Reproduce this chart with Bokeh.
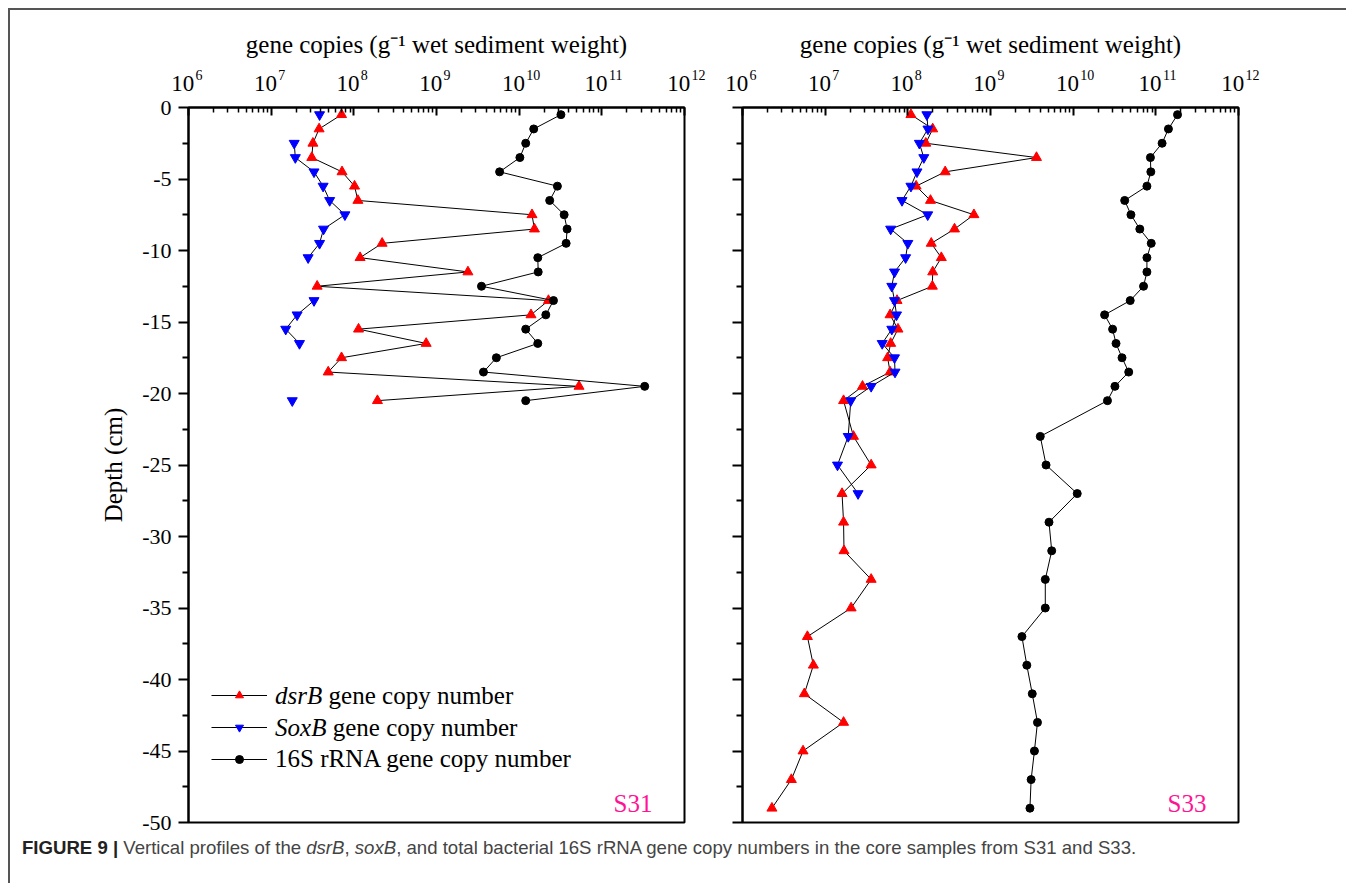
import numpy as np
from bokeh.plotting import figure
from bokeh.models import (Range1d, FixedTicker, CustomJSTickFormatter, Legend, LogAxis,
                          LegendItem, Label, Div, ColumnDataSource)
from bokeh.layouts import row, column
from bokeh.embed import file_html
from bokeh.resources import INLINE
from bokeh.core.properties import value

NaN = float("nan")

# ---------------- data ----------------
depth_s31 = [-0.5, -1.5, -2.5, -3.5, -4.5, -5.5, -6.5, -7.5, -8.5, -9.5, -10.5,
             -11.5, -12.5, -13.5, -14.5, -15.5, -16.5, -17.5, -18.5, -19.5, -20.5]
dsrB_s31 = [7.1e7, 3.8e7, 3.2e7, 3.1e7, 7.2e7, 1.02e8, 1.12e8, 1.43e10, 1.53e10, 2.2e8,
            1.19e8, 2.4e9, 3.6e7, 2.26e10, 1.39e10, 1.14e8, 7.5e8, 7.1e7, 4.9e7, 5.3e10, 1.93e8]
soxB_s31 = [3.85e7, NaN, 1.9e7, 1.96e7, 3.3e7, 4.25e7, 5.1e7, 7.8e7, 4.3e7, 3.85e7,
            2.8e7, NaN, NaN, 3.3e7, 2.06e7, 1.5e7, 2.2e7, NaN, NaN, NaN, 1.8e7]
rrna_s31 = [3.2e10, 1.5e10, 1.2e10, 1.02e10, 5.8e9, 2.9e10, 2.34e10, 3.5e10, 3.8e10, 3.7e10,
            1.68e10, 1.7e10, 3.5e9, 2.6e10, 2.1e10, 1.2e10, 1.68e10, 5.3e9, 3.7e9, 3.3e11, 1.2e10]

depth_s33 = [-0.5, -1.5, -2.5, -3.5, -4.5, -5.5, -6.5, -7.5, -8.5, -9.5, -10.5,
             -11.5, -12.5, -13.5, -14.5, -15.5, -16.5, -17.5, -18.5, -19.5, -20.5,
             -23, -25, -27, -29, -31, -33, -35, -37, -39, -41, -43, -45, -47, -49]
dsrB_s33 = [1.09e8, 2.0e8, 1.65e8, 3.6e9, 2.83e8, 1.26e8, 1.88e8, 6.3e8, 3.67e8, 1.92e8,
            2.54e8, 2.0e8, 1.98e8, 7.4e7, 6.1e7, 7.6e7, 6.2e7, 5.7e7, 6.1e7, 2.83e7, 1.67e7,
            2.2e7, 3.6e7, 1.6e7, 1.67e7, 1.69e7, 3.6e7, 2.06e7, 6.1e6, 7.2e6, 5.6e6, 1.67e7,
            5.4e6, 3.9e6, 2.27e6]
soxB_s33 = [1.7e8, 1.75e8, 1.38e8, 1.56e8, 1.29e8, 1.09e8, 8.5e7, 1.74e8, 6.2e7, 1.0e8,
            9.4e7, 6.9e7, 6.4e7, 6.9e7, 7.3e7, 6.4e7, 4.9e7, 6.9e7, 7.0e7, 3.6e7, 2.04e7,
            1.9e7, 1.41e7, 2.5e7, NaN, NaN, NaN, NaN, NaN, NaN, NaN, NaN, NaN, NaN, NaN]
rrna_s33 = [1.83e11, 1.42e11, 1.19e11, 8.6e10, 8.7e10, 7.8e10, 4.2e10, 5.0e10, 6.4e10, 8.8e10,
            7.8e10, 7.8e10, 7.1e10, 4.9e10, 2.4e10, 3.0e10, 3.3e10, 3.9e10, 4.7e10, 3.2e10, 2.6e10,
            4.0e9, 4.7e9, 1.12e10, 5.1e9, 5.5e9, 4.6e9, 4.6e9, 2.4e9, 2.75e9, 3.2e9, 3.7e9,
            3.4e9, 3.1e9, 3.0e9]

x_major = [1e6, 1e7, 1e8, 1e9, 1e10, 1e11, 1e12]
y_major = [0, -5, -10, -15, -20, -25, -30, -35, -40, -45, -50]
y_minor = [-2.5, -7.5, -12.5, -17.5, -22.5, -27.5, -32.5, -37.5, -42.5, -47.5]
x_title = "gene copies (g\u207b\u00b9 wet sediment weight)"
legend_names = [("dsrB", "gene copy number"), ("SoxB", "gene copy number"),
                (None, "16S rRNA gene copy number")]

# ---------------- layout constants ----------------
SERIF = "Liberation Serif"
FRAME_W, FRAME_H = 496, 715
TOP, BOTTOM = 97, 16
HEIGHT = TOP + FRAME_H + BOTTOM
X0, X1 = 1e6, 1e12
Y0, Y1 = -50.0, 0.0
DECADES = np.log10(X1) - np.log10(X0)
FSP = "\u2007"  # figure space, used to offset the "10" and its exponent horizontally


def x_at(px):
    """data x for a pixel offset from the frame's left edge"""
    return 10 ** (np.log10(X0) + DECADES * px / FRAME_W)


def y_at(py):
    """data y for a pixel offset from the frame's top edge"""
    return Y1 - (Y1 - Y0) * py / FRAME_H


x_minor = [m * 10 ** e for e in range(6, 12) for m in range(2, 10)]

base_code = "return '10" + FSP + "';"
exp_code = ("const e = String(Math.round(Math.log10(tick)));"
            "return (e.length > 1 ? '" + FSP * 4 + "' : '" + FSP * 3 + "') + e;")


def make_panel(depth, dsr, sox, rna, tag, left, right, show_ylabels):
    p = figure(width=left + FRAME_W + right, height=HEIGHT, x_axis_type="log",
               x_axis_location="above", x_range=Range1d(X0, X1), y_range=Range1d(Y0, Y1),
               output_backend="svg", toolbar_location=None,
               min_border_left=left, min_border_right=right,
               min_border_top=TOP, min_border_bottom=BOTTOM)
    p.grid.visible = False
    p.outline_line_color = "black"
    p.outline_line_width = 2
    p.outline_line_alpha = 1.0

    # main top axis: line + ticks only
    xa = p.xaxis[0]
    xa.ticker = FixedTicker(ticks=x_major, minor_ticks=x_minor)
    xa.formatter = CustomJSTickFormatter(code="return ''")
    xa.major_label_text_font_size = "1px"
    xa.major_label_standoff = 0
    xa.axis_line_width = 2
    xa.major_tick_in = 8
    xa.major_tick_out = 0
    xa.minor_tick_in = 5
    xa.minor_tick_out = 0
    xa.major_tick_line_width = 2
    xa.minor_tick_line_width = 1.5

    # "10" part of the tick labels
    base_ax = LogAxis(ticker=FixedTicker(ticks=x_major, minor_ticks=[]),
                      formatter=CustomJSTickFormatter(code=base_code),
                      axis_line_color=None, major_tick_line_color=None,
                      minor_tick_line_color=None, major_tick_in=0, major_tick_out=0,
                      minor_tick_in=0, minor_tick_out=0, major_label_standoff=12,
                      major_label_text_font=SERIF, major_label_text_font_size="23px",
                      major_label_text_color="black")
    p.add_layout(base_ax, "above")
    # exponent part of the tick labels + axis title
    exp_ax = LogAxis(ticker=FixedTicker(ticks=x_major, minor_ticks=[]),
                     formatter=CustomJSTickFormatter(code=exp_code),
                     axis_line_color=None, major_tick_line_color=None,
                     minor_tick_line_color=None, major_tick_in=0, major_tick_out=0,
                     minor_tick_in=0, minor_tick_out=0, major_label_standoff=-15,
                     major_label_text_font=SERIF, major_label_text_font_size="14px",
                     major_label_text_color="black",
                     axis_label=x_title, axis_label_text_font=SERIF,
                     axis_label_text_font_size="25px", axis_label_text_font_style="normal",
                     axis_label_text_color="black", axis_label_standoff=7)
    p.add_layout(exp_ax, "above")

    ya = p.yaxis[0]
    ya.ticker = FixedTicker(ticks=y_major, minor_ticks=y_minor)
    ya.axis_line_width = 2
    ya.major_tick_out = 10
    ya.major_tick_in = 0
    ya.minor_tick_out = 6
    ya.minor_tick_in = 0
    ya.major_tick_line_width = 2
    ya.minor_tick_line_width = 2
    ya.major_label_text_font = SERIF
    ya.major_label_text_font_size = "22px"
    ya.major_label_text_color = "black"
    ya.major_label_standoff = 7
    if show_ylabels:
        ya.formatter = CustomJSTickFormatter(code="return String(tick)")
        ya.axis_label = "Depth (cm)"
        ya.axis_label_text_font = SERIF
        ya.axis_label_text_font_size = "25px"
        ya.axis_label_text_font_style = "normal"
        ya.axis_label_text_color = "black"
        ya.axis_label_standoff = 12
    else:
        ya.formatter = CustomJSTickFormatter(code="return ''")

    src = ColumnDataSource(dict(depth=np.array(depth, dtype=float),
                                dsr=np.array(dsr, dtype=float),
                                sox=np.array(sox, dtype=float),
                                rna=np.array(rna, dtype=float)))
    rl = p.line("dsr", "depth", source=src, line_color="black", line_width=1)
    rs = p.scatter("dsr", "depth", source=src, marker="triangle", size=10,
                   fill_color="#ff0000", line_color="#ff0000")
    bl = p.line("sox", "depth", source=src, line_color="black", line_width=1)
    bs = p.scatter("sox", "depth", source=src, marker="inverted_triangle", size=10,
                   fill_color="#0000ff", line_color="#0000ff")
    kl = p.line("rna", "depth", source=src, line_color="black", line_width=1)
    ks = p.scatter("rna", "depth", source=src, marker="circle", size=8,
                   fill_color="black", line_color="black")

    p.add_layout(Label(x=x_at(FRAME_W - 32), y=y_at(696), text=tag, text_align="right",
                       text_baseline="middle", text_font=SERIF,
                       text_font_size="25px", text_color="#ff1493"))
    return p, [(rl, rs), (bl, bs), (kl, ks)]


p1, rends = make_panel(depth_s31, dsrB_s31, soxB_s31, rrna_s31, "S31", 178, 24, True)
p2, _ = make_panel(depth_s33, dsrB_s33, soxB_s33, rrna_s33, "S33", 34, 60, False)

# legend: glyph samples via Legend, text via labels (to allow italics)
legend = Legend(items=[LegendItem(label=value(" "), renderers=list(r)) for r in rends],
                location=(23, 53), glyph_width=56, glyph_height=20, label_height=20,
                spacing=12, padding=0, margin=0, label_standoff=4,
                border_line_alpha=0, background_fill_alpha=0,
                label_text_font_size="8px")
p1.add_layout(legend)

row_y = [588, 620, 651]
for (ital, plain), py in zip(legend_names, row_y):
    x_text = 86.6
    if ital:
        p1.add_layout(Label(x=x_at(x_text), y=y_at(py), text=ital, text_align="left",
                            text_baseline="middle", text_font=SERIF,
                            text_font_style="italic", text_font_size="25px",
                            text_color="black"))
        x_text += 53.5 if ital == "dsrB" else 57.6
    p1.add_layout(Label(x=x_at(x_text), y=y_at(py), text=plain, text_align="left",
                        text_baseline="middle", text_font=SERIF,
                        text_font_size="25px", text_color="black"))

caption = Div(
    text=('<div style="font-family:\'Liberation Sans\',Arial,sans-serif;font-size:18.6px;'
          'color:#444;white-space:nowrap;line-height:20px">'
          '<b style="color:#222">FIGURE 9 |</b> Vertical profiles of the <i>dsrB</i>, '
          '<i>soxB</i>, and total bacterial 16S rRNA gene copy numbers in the core '
          'samples from S31 and S33.</div>'),
    width=1300, height=24, margin=(0, 0, 0, 12))

layout = column(row(p1, p2), caption, width=1338, height=875, margin=(8, 0, 0, 8),
                styles={"border-top": "2px solid #555", "border-left": "2px solid #555"})

open("out.html", "w").write(file_html(layout, INLINE))
